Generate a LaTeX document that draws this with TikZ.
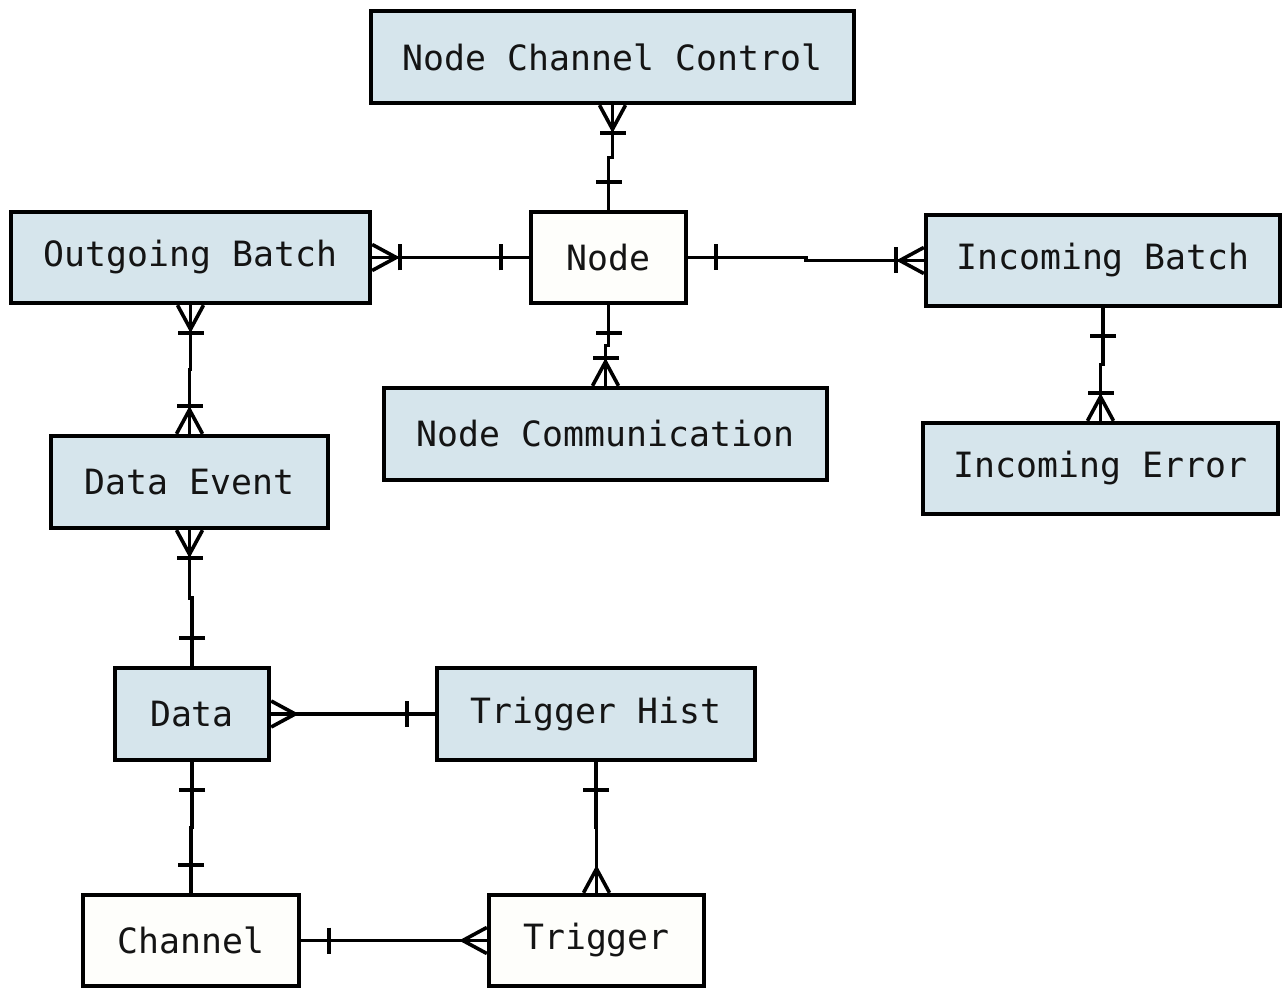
\documentclass[tikz,border=0pt]{standalone}
\usepackage{fontspec}
\newfontfamily\dvm{DejaVu Sans Mono}
\usetikzlibrary{calc,decorations.markings}
\definecolor{boxblue}{RGB}{214,229,236}
\definecolor{boxwhite}{RGB}{254,254,251}
\definecolor{ink}{RGB}{20,20,20}
\tikzset{
  ent/.style={draw=black, line width=2.2pt, fill=boxblue, text=ink,
    font=\dvm\fontsize{17.4}{20}\selectfont, inner sep=0pt},
  entw/.style={ent, fill=boxwhite},
  conn/.style={line width=1.8pt},
  sCrow/.style={postaction={decorate,decoration={markings,
    mark=at position 0pt with {\draw[line width=1.8pt] (0pt,6.5pt) -- (12pt,0pt) -- (0pt,-6.5pt);}}}},
  sBar/.style={postaction={decorate,decoration={markings,
    mark=at position 0pt with {\draw[line width=1.8pt] (14pt,6.5pt) -- (14pt,-6.5pt);}}}},
  eCrow/.style={postaction={decorate,decoration={markings,
    mark=at position 1 with {\draw[line width=1.8pt] (0pt,6.5pt) -- (-12pt,0pt) -- (0pt,-6.5pt);}}}},
  eBar/.style={postaction={decorate,decoration={markings,
    mark=at position 1 with {\draw[line width=1.8pt] (-14pt,6.5pt) -- (-14pt,-6.5pt);}}}}
}
\begin{document}
\begin{tikzpicture}[x=0.5pt,y=-0.5pt]
\useasboundingbox (0,0) rectangle (1282,990);
\node[ent, minimum width=241.5pt, minimum height=46pt] (ncc) at (612.5,57) {Node Channel Control};
\node[ent, minimum width=179.5pt, minimum height=45.5pt] (ob) at (190.5,257.5) {Outgoing Batch};
\node[entw, minimum width=77.5pt, minimum height=45.5pt] (node) at (608.5,257.5) {Node};
\node[ent, minimum width=177pt, minimum height=45.5pt] (ib) at (1103,260.5) {Incoming Batch};
\node[ent, minimum width=221.5pt, minimum height=46pt] (ncomm) at (605.5,434) {Node Communication};
\node[ent, minimum width=177.5pt, minimum height=45.5pt] (ie) at (1100.5,468.5) {Incoming Error};
\node[ent, minimum width=138.5pt, minimum height=46pt] (de) at (189.5,482) {Data Event};
\node[ent, minimum width=77pt, minimum height=46pt] (data) at (192,714) {Data};
\node[ent, minimum width=159pt, minimum height=46pt] (th) at (596,714) {Trigger Hist};
\node[entw, minimum width=108pt, minimum height=45.5pt] (ch) at (191,940.5) {Channel};
\node[entw, minimum width=107.5pt, minimum height=45.5pt] (trig) at (596.5,940.5) {Trigger};

\draw[conn,sCrow,sBar,eBar] (ncc.south) |- ($(ncc.south)!.5!(node.north)$) -| (node.north);
\draw[conn,sBar,eCrow,eBar] (node.west) -- (ob.east);
\draw[conn,sBar,eCrow,eBar] (node.east) -| ($(node.east)!.5!(ib.west)$) |- (ib.west);
\draw[conn,sBar,eCrow,eBar] (node.south) |- ($(node.south)!.5!(ncomm.north)$) -| (ncomm.north);
\draw[conn,sBar,eCrow,eBar] (ib.south) |- ($(ib.south)!.5!(ie.north)$) -| (ie.north);
\draw[conn,sCrow,sBar,eCrow,eBar] (ob.south) |- ($(ob.south)!.5!(de.north)$) -| (de.north);
\draw[conn,sCrow,sBar,eBar] (de.south) |- ($(de.south)!.5!(data.north)$) -| (data.north);
\draw[conn,sCrow,eBar] (data.east) -- (th.west);
\draw[conn,sBar,eBar] (data.south) |- ($(data.south)!.5!(ch.north)$) -| (ch.north);
\draw[conn,sBar,eCrow] (ch.east) -- (trig.west);
\draw[conn,sBar,eCrow] (th.south) |- ($(th.south)!.5!(trig.north)$) -| (trig.north);
\end{tikzpicture}
\end{document}
